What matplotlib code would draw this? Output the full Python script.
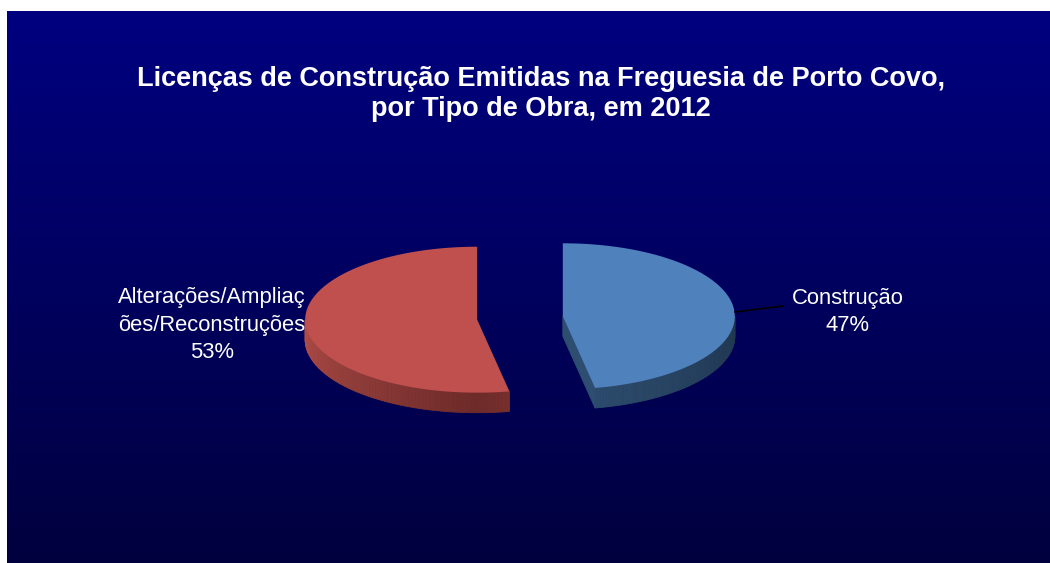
import numpy as np
import matplotlib.pyplot as plt
from matplotlib.patches import Polygon
from matplotlib.colors import to_rgb

plt.rcParams['font.family'] = ['Liberation Sans', 'DejaVu Sans']

title = 'Licenças de Construção Emitidas na Freguesia de Porto Covo,\npor Tipo de Obra, em 2012'
labels = ['Construção', 'Alterações/Ampliaç\nões/Reconstruções']
values = [47, 53]
top_colors = ['#4F81BD', '#C0504D']
# side shading: (colour near the front/bottom, colour at the far end of the rim)
side_colors = [('#2E4E70', '#1F364F'), ('#6E2B29', '#B24E49')]
cut_colors = ['#2D4E70', '#7A302D']

W, H = 1050, 563
fig = plt.figure(figsize=(W / 100, H / 100), dpi=100)
fig.patch.set_facecolor('white')
ax = fig.add_axes([0, 0, 1, 1])
ax.set_xlim(0, W)
ax.set_ylim(H, 0)
ax.axis('off')

# background gradient panel
grad = np.linspace(0, 1, 256)[:, None]
c0 = np.array([0, 0, 128]) / 255
c1 = np.array([0, 0, 62]) / 255
img = c0[None, None, :] * (1 - grad[:, :, None]) + c1[None, None, :] * grad[:, :, None]
img = np.repeat(img, 2, axis=1)
ax.imshow(img, extent=[7, W, H, 11], aspect='auto', zorder=0)

# 3D exploded pie geometry (pixel space, y down)
cx0, cy0 = 520, 318
rx, ry = 172, 73
depth = 20
explode = 0.25


def pt(cx, cy, th):
    return cx + rx * np.sin(th), cy - ry * np.cos(th)


def mix(a, b, t):
    a, b = np.array(to_rgb(a)), np.array(to_rgb(b))
    return tuple(a * (1 - t) + b * t)


total = sum(values)
fracs = np.array(values) / total
starts = np.concatenate([[0], np.cumsum(fracs)[:-1]]) * 2 * np.pi
ends = np.cumsum(fracs) * 2 * np.pi

slices = []
for i in range(len(values)):
    mid = (starts[i] + ends[i]) / 2
    cx = cx0 + explode * rx * np.sin(mid)
    cy = cy0 - explode * ry * np.cos(mid)
    slices.append((cx, cy, starts[i], ends[i]))

# side faces
for i, (cx, cy, a0, a1) in enumerate(slices):
    near, far = side_colors[i]
    # outer rim, front half only (pi/2 .. 3pi/2)
    r0, r1 = max(a0, np.pi / 2), min(a1, 3 * np.pi / 2)
    if r1 > r0:
        ths = np.linspace(r0, r1, 80)
        for k in range(len(ths) - 1):
            xa, ya = pt(cx, cy, ths[k])
            xb, yb = pt(cx, cy, ths[k + 1])
            # distance from bottom (pi) along the rim
            t = min(1, abs(ths[k] - np.pi) / (np.pi / 2))
            col = mix(near, far, t)
            ax.add_patch(Polygon([(xa, ya), (xb, yb), (xb, yb + depth), (xa, ya + depth)],
                                 closed=True, facecolor=col, edgecolor=col, lw=0.6, zorder=2))
    # radial cut faces that face the viewer
    for th, ny in ((a0, -np.sin(a0)), (a1, np.sin(a1))):
        if ny > 1e-6:
            xr, yr = pt(cx, cy, th)
            face = [(cx, cy), (xr, yr), (xr, yr + depth), (cx, cy + depth)]
            ax.add_patch(Polygon(face, closed=True, facecolor=cut_colors[i],
                                 edgecolor=cut_colors[i], lw=0.6, zorder=2))

# top faces
for i, (cx, cy, a0, a1) in enumerate(slices):
    ths = np.linspace(a0, a1, 200)
    xs, ys = pt(cx, cy, ths)
    poly = [(cx, cy)] + list(zip(xs, ys))
    ax.add_patch(Polygon(poly, closed=True, facecolor=top_colors[i],
                         edgecolor='none', zorder=3))

# title
ax.text(541, 94, title, color='white', fontsize=19.5, fontweight='bold',
        ha='center', va='center', linespacing=1.2, zorder=5)

# data labels
ax.plot([735, 783], [312, 306], color='black', lw=1.2, zorder=4)
ax.text(848, 312, f'{labels[0]}\n{values[0]}%', color='white', fontsize=15.8,
        ha='center', va='center', linespacing=1.38, zorder=5)
ax.text(212, 325, f'{labels[1]}\n{values[1]}%', color='white', fontsize=15.8,
        ha='center', va='center', linespacing=1.38, zorder=5)

fig.savefig('out.png', dpi=100, facecolor=fig.get_facecolor())
